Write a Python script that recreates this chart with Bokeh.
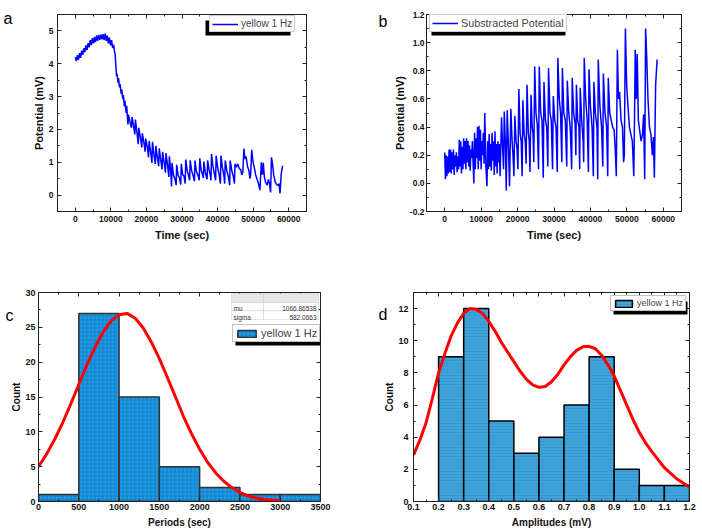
from bokeh.plotting import figure
from bokeh.models import (LinearAxis, SingleIntervalTicker, FixedTicker, Range1d, Legend, LegendItem,
                          BoxAnnotation, Label, CustomJSTickFormatter, CustomLabelingPolicy,
                          PrintfTickFormatter)
from bokeh.layouts import column, row
from bokeh.embed import file_html
from bokeh.resources import INLINE

FONT = "Liberation Sans"

# ---------------- data: panel a ----------------
a_time = [0, 300, 600, 900, 1200, 1500, 1800, 2100, 2400, 2700, 3000, 3300, 3600, 3900, 4200, 4500,
          4800, 5100, 5400, 5700, 6000, 6300, 6600, 6900, 7200, 7500, 7800, 8100, 8400, 8700, 9000,
          9300, 9600, 9900, 10200, 10500, 10800, 11000, 11200, 11400,
          11600, 11750, 12000, 12150, 12450, 12600, 12900, 13050, 13350, 13500, 13800, 13950, 14300,
          14450, 14800, 14950, 15400, 15800, 15950, 16400, 16750, 16900, 17300, 17700, 17850, 18300,
          18700, 18850, 19300, 19650, 19800, 20250, 20600, 20750, 21200, 21550, 21700, 22150, 22500,
          22650, 23100, 23450, 23600, 24050, 24400, 24550, 25000, 25350, 25500, 25950, 26300, 26450,
          26850, 27050,
          27200, 27600, 28000, 28350, 28500, 28900, 29300, 29650, 29800, 30200, 30550, 30900, 31050,
          31450, 31800, 32150, 32300, 32700, 33100, 33500, 33650, 34050, 34450, 34850, 35000, 35400,
          35800, 36000, 36150, 36500, 36850, 37050, 37200, 37600, 38000, 38150, 38300, 38700, 39100,
          39450, 39600, 40000, 40450, 40800, 40950, 41350, 41800, 42000, 42150, 42600, 43050, 43400,
          43550, 44000, 44450, 44750, 44900, 45300, 45700, 46100, 46500, 46800, 47100,
          47400, 47700, 48000, 48400, 48800, 49100, 49300, 49600, 49950, 50300, 50700, 51100, 51500,
          51900, 52100, 52300, 52600, 52850, 53150, 53500, 53900, 54300, 54600, 54900, 55150, 55450,
          55800, 56200, 56600, 57000, 57300, 57550, 57900, 58300]
a_potential = [4.20, 4.08, 4.26, 4.12, 4.32, 4.18, 4.40, 4.27, 4.47, 4.35, 4.56, 4.42, 4.63, 4.50,
               4.72, 4.57, 4.78, 4.62, 4.82, 4.66, 4.86, 4.70, 4.88, 4.73, 4.89, 4.74, 4.90, 4.72,
               4.92, 4.70, 4.86, 4.62, 4.80, 4.56, 4.72, 4.48, 4.58, 4.38, 4.30, 3.95,
               3.62, 3.70, 3.42, 3.56, 3.28, 3.38, 3.08, 3.22, 2.92, 3.05, 2.70, 2.88, 2.50,
               2.72, 2.15, 2.45, 2.22, 2.05, 2.38, 2.10, 1.85, 2.30, 1.95, 1.55, 2.05, 1.75,
               1.45, 1.88, 1.60, 1.32, 1.72, 1.45, 1.15, 1.65, 1.30, 0.98, 1.62, 1.20, 0.95,
               1.50, 1.12, 0.88, 1.42, 1.05, 0.78, 1.32, 0.98, 0.68, 1.28, 0.90, 0.55, 1.18,
               0.70, 0.26,
               0.98, 0.60, 0.50, 0.30, 0.92, 0.60, 0.52, 0.32, 0.95, 0.62, 0.58, 0.35, 1.08,
               0.75, 0.62, 0.45, 1.06, 0.75, 0.60, 0.42, 1.05, 0.72, 0.62, 0.45, 1.12, 0.75,
               0.62, 0.52, 1.02, 0.72, 0.55, 0.48, 1.06, 0.78, 0.58, 0.45, 1.25, 0.88, 0.65,
               0.45, 1.20, 0.85, 0.62, 0.35, 1.20, 0.85, 0.58, 0.35, 1.05, 0.75, 0.55, 0.30,
               1.05, 0.75, 0.55, 0.35, 0.95, 0.85, 0.95, 0.80, 0.78, 0.62, 0.70,
               1.42, 1.10, 1.18, 0.88, 0.75, 0.50, 0.62, 1.38, 1.02, 0.85, 0.62, 0.48, 0.35,
               0.15, 0.55, 1.00, 0.62, 0.98, 0.55, 0.40, 0.30, 0.48, 0.35, 0.08, 1.15, 0.95,
               0.60, 0.40, 0.32, 0.30, 0.35, 0.05, 0.65, 0.90]

# ---------------- data: panel b ----------------
b_time = [0, 200, 400, 600, 800, 1000, 1200, 1400, 1600, 1800, 2000, 2200, 2400, 2600, 2800, 3000,
          3200, 3400, 3600, 3800, 4000, 4200, 4400, 4600, 4800, 5000, 5200, 5400, 5600, 5800, 6000,
          6200, 6400, 6600, 6800, 7000, 7200, 7400, 7600, 7800, 8000, 8200, 8400, 8600, 8800, 9000,
          9200, 9400, 9600, 9800, 10000, 10200, 10400, 10600, 10800, 11000, 11300, 11600, 11800,
          12000, 12200, 12400, 12600, 12800, 13000, 13200, 13400, 13600, 13800, 14000, 14200, 14400,
          14600, 14800, 15000, 15200, 15600, 15900, 16150, 16350, 16650, 16900, 17150, 17450, 17800,
          18150, 18500, 18750, 19000, 19250, 19600, 19850, 20100, 20350, 20700, 21000, 21250, 21450,
          21800, 22100, 22350, 22600, 22950, 23200, 23400, 23700, 24000, 24250, 24450, 24700, 25050,
          25400, 25750, 25950, 26350, 26700, 27050, 27250, 27650, 28000, 28300, 28500, 28900, 29250,
          29600, 29800, 30200, 30550, 30900, 31050, 31450, 31800, 32150, 32300, 32700, 33100, 33500,
          33650, 34050, 34450, 34850, 35000, 35400, 35800, 36000, 36150, 36500, 36850, 37050, 37200,
          37600, 38000, 38150, 38300, 38700, 39100, 39450, 39600, 40000, 40450, 40800, 40950, 41350,
          41800, 42000, 42150, 42600, 43050, 43400, 43550, 44000, 44450, 44750, 44900, 45300, 45700,
          46100, 46500, 46800, 47100, 47400, 47700, 48000, 48400, 48800, 49100, 49300, 49600, 49950,
          50300, 50700, 51100, 51500, 51900, 52100, 52300, 52600, 52850, 53150, 53500, 53900, 54300,
          54600, 54900, 55150, 55450, 55800, 56200, 56600, 57000, 57300, 57550, 57900, 58300]
b_potential = [0.22, 0.03, 0.20, 0.05, 0.19, 0.07, 0.24, 0.08, 0.24, 0.07, 0.22, 0.10, 0.24, 0.06,
               0.20, 0.12, 0.22, 0.08, 0.19, 0.10, 0.31, 0.12, 0.30, 0.07, 0.26, 0.10, 0.32, 0.14,
               0.30, 0.10, 0.32, 0.15, 0.30, 0.12, 0.27, 0.09, 0.24, 0.18, 0.30, 0.14, 0.00, 0.36,
               0.10, 0.32, 0.18, 0.40, 0.10, 0.41, 0.16, 0.38, 0.10, 0.30, 0.20, 0.36, 0.14, 0.50,
               0.12, -0.02, 0.30, 0.10, 0.35, 0.12, 0.28, 0.09, 0.36, 0.16, 0.30, 0.06, 0.37, 0.12,
               0.28, 0.07, 0.30, 0.15, 0.28, 0.05, 0.47, 0.25, 0.10, 0.51, 0.28, -0.05, 0.52, 0.30,
               -0.02, 0.53, 0.30, 0.20, 0.05, 0.48, 0.30, 0.25, 0.10, 0.67, 0.35, 0.30, 0.05, 0.59,
               0.35, 0.30, 0.14, 0.70, 0.36, 0.30, 0.08, 0.63, 0.40, 0.35, 0.15, 0.83, 0.50, 0.42,
               0.10, 0.83, 0.50, 0.45, 0.04, 0.72, 0.45, 0.40, 0.12, 0.82, 0.50, 0.45, 0.10, 0.62,
               0.45, 0.40, 0.08, 0.89, 0.60, 0.50, 0.15, 0.82, 0.50, 0.45, 0.12, 0.73, 0.50, 0.40,
               0.10, 0.75, 0.50, 0.42, 0.20, 0.70, 0.45, 0.40, 0.10, 0.68, 0.45, 0.30, 0.15, 0.89,
               0.60, 0.45, 0.08, 0.81, 0.55, 0.40, 0.05, 0.72, 0.50, 0.40, 0.03, 0.88, 0.55, 0.40,
               0.12, 0.78, 0.50, 0.40, 0.05, 0.75, 0.50, 0.45, 0.40, 0.38, 0.25, 0.05, 0.95, 0.60,
               0.65, 0.45, 0.40, 0.15, 0.20, 1.10, 0.70, 0.55, 0.40, 0.35, 0.30, 0.05, 0.45, 0.95,
               0.60, 0.92, 0.45, 0.38, 0.30, 0.35, 0.49, 0.03, 1.10, 0.90, 0.60, 0.40, 0.35, 0.20,
               0.33, 0.04, 0.70, 0.88]
b_ticks = [-0.2, 0.0, 0.2, 0.4, 0.6, 0.8, 1.0, 1.2]
b_minor_ticks = [-0.1, 0.1, 0.3, 0.5, 0.7, 0.9, 1.1]

# ---------------- data: panel c ----------------
period_edges = [0, 500, 1000, 1500, 2000, 2500, 3000, 3500]
period_counts = [1, 27, 15, 5, 2, 1, 1]
period_fit_x = [0, 100, 200, 300, 400, 500, 600, 700, 800, 900, 1000, 1100, 1200, 1300, 1400, 1500,
                1600, 1700, 1800, 1900, 2000, 2100, 2200, 2300, 2400, 2500, 2600, 2700, 2800, 2900, 3000]
period_fit_y = [5.0, 6.8, 8.9, 11.3, 14.0, 16.8, 19.6, 22.1, 24.3, 25.9, 26.8, 27.0, 26.3, 24.9, 22.9,
                20.5, 17.8, 15.0, 12.2, 9.7, 7.5, 5.6, 4.1, 2.9, 2.0, 1.3, 0.8, 0.5, 0.3, 0.2, 0.1]
stat_names = ["mu", "sigma"]
stat_values = ["1066.86538", "582.0663"]

# ---------------- data: panel d ----------------
amp_edges = [0.2, 0.3, 0.4, 0.5, 0.6, 0.7, 0.8, 0.9, 1.0, 1.1, 1.2]
amp_counts = [9, 12, 5, 3, 4, 6, 9, 2, 1, 1]
amp_fit_x = [0.100, 0.125, 0.150, 0.175, 0.200, 0.225, 0.250, 0.275, 0.300, 0.325, 0.350, 0.375,
             0.400, 0.425, 0.450, 0.475, 0.500, 0.525, 0.550, 0.575, 0.600, 0.625, 0.650, 0.675,
             0.700, 0.725, 0.750, 0.775, 0.800, 0.825, 0.850, 0.875, 0.900, 0.925, 0.950, 0.975,
             1.000, 1.025, 1.050, 1.075, 1.100, 1.125, 1.150, 1.175, 1.200]
amp_fit_y = [2.9, 3.8, 4.9, 6.4, 8.0, 9.2, 10.3, 11.1, 11.7, 12.0, 11.95, 11.7, 11.2, 10.6, 9.9, 9.3,
             8.7, 8.1, 7.6, 7.25, 7.1, 7.15, 7.45, 7.9, 8.5, 9.0, 9.4, 9.62, 9.65, 9.5, 9.1, 8.5, 7.8,
             6.9, 6.0, 5.1, 4.3, 3.65, 3.1, 2.6, 2.1, 1.75, 1.4, 1.15, 0.9]

NO_LABELS = CustomLabelingPolicy(code="return []")


def make_fig(w, h, xr, yr, borders, xint, yint, xlabel, ylabel, tick_fs, label_fs,
             ls_y, as_y, ls_x, as_x, yfmt=None, xfmt=None, yticks=None, yminor=None):
    p = figure(width=w, height=h, x_range=Range1d(*xr), y_range=Range1d(*yr),
               output_backend="svg", toolbar_location=None,
               x_axis_label=xlabel, y_axis_label=ylabel)
    p.min_border_left, p.min_border_right, p.min_border_top, p.min_border_bottom = borders
    p.xgrid.visible = False
    p.ygrid.visible = False
    p.outline_line_color = "#222222"
    p.outline_line_width = 1
    p.background_fill_color = "white"
    p.border_fill_color = "white"
    bottom = p.below[0]
    left = p.left[0]

    def yticker():
        if yticks is not None:
            return FixedTicker(ticks=yticks, minor_ticks=yminor)
        return SingleIntervalTicker(interval=yint, num_minor_ticks=2)

    bottom.ticker = SingleIntervalTicker(interval=xint, num_minor_ticks=2)
    left.ticker = yticker()
    if yfmt is not None:
        left.formatter = PrintfTickFormatter(format=yfmt)
    if xfmt is not None:
        bottom.formatter = PrintfTickFormatter(format=xfmt)
    top = LinearAxis(ticker=SingleIntervalTicker(interval=xint, num_minor_ticks=2),
                     major_label_policy=NO_LABELS)
    right = LinearAxis(ticker=yticker(), major_label_policy=NO_LABELS)
    p.add_layout(top, "above")
    p.add_layout(right, "right")
    for ax in [bottom, left, top, right]:
        ax.major_tick_in = 4
        ax.major_tick_out = 0
        ax.minor_tick_in = 2
        ax.minor_tick_out = 0
        ax.axis_line_color = "#222222"
        ax.major_tick_line_color = "#222222"
        ax.minor_tick_line_color = "#222222"
        ax.major_label_text_font = FONT
        ax.major_label_text_font_style = "bold"
        ax.major_label_text_color = "#111111"
        ax.major_label_text_font_size = tick_fs
        ax.axis_label_text_font = FONT
        ax.axis_label_text_font_style = "bold"
        ax.axis_label_text_color = "#111111"
        ax.axis_label_text_font_size = label_fs
    for ax in [top, right]:
        ax.major_label_standoff = 0
        ax.axis_label_standoff = 0
    bottom.major_label_standoff = ls_x
    bottom.axis_label_standoff = as_x
    left.major_label_standoff = ls_y
    left.axis_label_standoff = as_y
    return p


def add_letter(p, letter, yval, standoff, side="left"):
    ax = LinearAxis(ticker=FixedTicker(ticks=[yval]),
                    formatter=CustomJSTickFormatter(code="return '%s'" % letter),
                    major_tick_in=0, major_tick_out=0, minor_tick_in=0, minor_tick_out=0,
                    major_tick_line_color=None, minor_tick_line_color=None,
                    axis_line_color=None, major_label_standoff=standoff,
                    major_label_text_font=FONT, major_label_text_font_size="16px",
                    major_label_text_font_style="normal", major_label_text_color="black",
                    major_label_orientation="horizontal")
    p.add_layout(ax, side)


def add_legend(p, renderer, label, loc, font_size, gw, gh, border="#a0a0a0"):
    leg = Legend(items=[LegendItem(label=label, renderers=[renderer])], location=loc,
                 label_text_font=FONT, label_text_font_size=font_size,
                 glyph_width=gw, glyph_height=gh, label_height=gh, label_standoff=3,
                 padding=2, spacing=0, margin=0, border_line_color=border,
                 border_line_width=1, background_fill_color="white", background_fill_alpha=1)
    p.add_layout(leg)


def add_shadow(p, l, r, t, b):
    p.add_layout(BoxAnnotation(left=l, right=r, top=t, bottom=b, left_units="canvas",
                               right_units="canvas", top_units="canvas", bottom_units="canvas",
                               fill_color="black", fill_alpha=1, line_color=None))


# ---------------- panel a (also carries the "b" panel letter in its right margin) ----------------
pa = make_fig(390, 265, (-5000, 65000), (-0.5, 5.5), (50, 84, 6, 54), 10000, 1,
              "Time (sec)", "Potential (mV)", "8.5px", "11px", 4, 1, 4, 4)
ra = pa.line(a_time, a_potential, line_color="#0000FF", line_width=1.5)
add_shadow(pa, 205, 290, 20, 35)
add_legend(pa, ra, "yellow 1 Hz", (152, 179), "10px", 26, 10)
add_letter(pa, "a", 5.39, 17)
add_letter(pa, "b", 5.295, 64, side="right")

# ---------------- panel b ----------------
pb = make_fig(312, 265, (-5000, 65000), (-0.2, 1.2), (35, 21, 14, 54), 10000, 0.2,
              "Time (sec)", "Potential (mV)", "8.5px", "11px", 2, 1, 4, 4, yfmt="%.1f",
              yticks=b_ticks, yminor=b_minor_ticks)
rb = pb.line(b_time, b_potential, line_color="#0000FF", line_width=1.5)
add_shadow(pb, 41, 175, 21, 35)
add_legend(pb, rb, "Substracted Potential", (3, 179), "10.8px", 26, 10)

# ---------------- panel c ----------------
pc = make_fig(351, 266, (0, 3500), (0, 30), (38, 31, 27, 30), 500, 5,
              "Periods (sec)", "Count", "9px", "10px", 3, 0, 2, 4)
rc = pc.quad(left=period_edges[:-1], right=period_edges[1:], top=period_counts, bottom=0,
             fill_color="#1E9BE6", line_color="#333333", line_width=1.5,
             hatch_pattern="+", hatch_scale=4, hatch_color="#0B5A9E", hatch_alpha=0.55,
             hatch_weight=0.7)
pc.line(period_fit_x, period_fit_y, line_color="#FF0000", line_width=3)
# stats table (canvas pixels)
row_tops = [28, 37, 45]
row_bots = [37, 45, 54]
for i in range(3):
    for (l, r) in [(231, 263), (263, 318)]:
        pc.add_layout(BoxAnnotation(left=l, right=r, top=row_tops[i], bottom=row_bots[i],
                                    left_units="canvas", right_units="canvas",
                                    top_units="canvas", bottom_units="canvas",
                                    fill_color="#E6E6E6" if i == 0 else "white", fill_alpha=1,
                                    line_color="#B0B0B0", line_width=1))
for i, (nm, vv) in enumerate(zip(stat_names, stat_values)):
    yb = row_bots[i + 1] - 2
    pc.add_layout(Label(x=233, y=yb, x_units="canvas", y_units="canvas", text=nm,
                        text_font=FONT, text_font_size="6.5px", text_color="#333333",
                        text_baseline="alphabetic"))
    pc.add_layout(Label(x=316, y=yb, x_units="canvas", y_units="canvas", text=vv,
                        text_font=FONT, text_font_size="6.5px", text_color="#333333",
                        text_align="right", text_baseline="alphabetic"))
add_shadow(pc, 235, 320, 67, 80)
add_legend(pc, rc, "yellow 1 Hz", (194, 159), "11px", 23, 9, border="#888888")
add_letter(pc, "c", 26.76, -5)

# ---------------- panel d ----------------
pd_ = make_fig(351, 266, (0.1, 1.2001), (0, 13), (62, 8, 27, 30), 0.1, 2,
               "Amplitudes (mV)", "Count", "9px", "10px", 5, 0, 2, 4, xfmt="%.1f")
rd = pd_.quad(left=amp_edges[:-1], right=amp_edges[1:], top=amp_counts, bottom=0,
              fill_color="#40A4DC", line_color="#000000", line_width=1.5,
              hatch_pattern="-", hatch_scale=3, hatch_color="#2A78B0", hatch_alpha=0.5,
              hatch_weight=0.6)
pd_.line(amp_fit_x, amp_fit_y, line_color="#FF0000", line_width=3)
add_shadow(pd_, 262, 336, 36, 49)
add_legend(pd_, rd, "yellow 1 Hz", (197, 190), "9px", 21, 9, border="#888888")
add_letter(pd_, "d", 11.63, -6)

layout = column(row(pa, pb), row(pc, pd_))
open("out.html", "w").write(file_html(layout, INLINE))
